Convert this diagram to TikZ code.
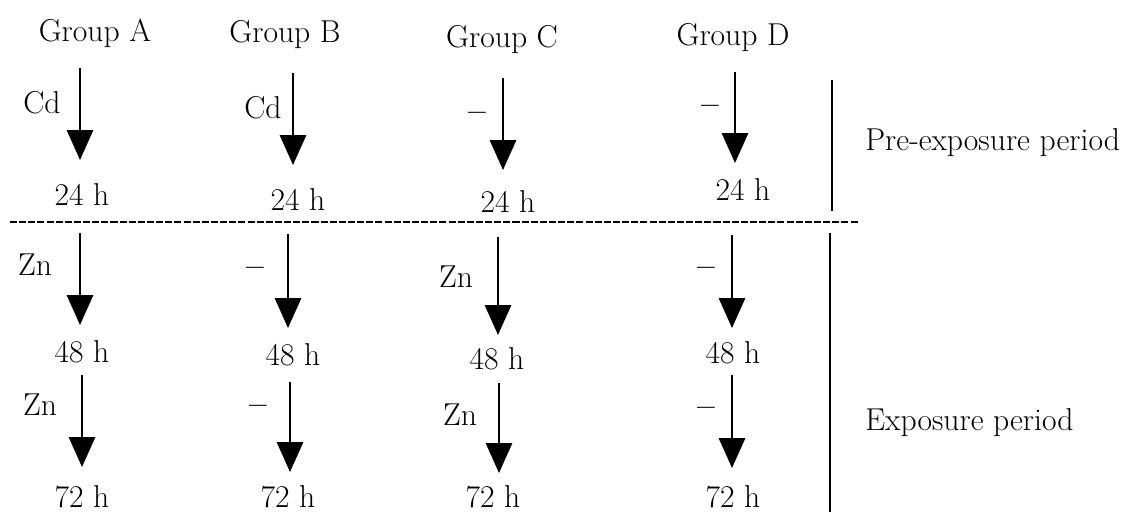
\documentclass[tikz,border=0pt]{standalone}
\usepackage{tikz}
\usetikzlibrary{arrows.meta,positioning}

\begin{document}
\begin{tikzpicture}[x=0.02cm,y=-0.02cm,
    flow/.style={line width=0.85pt,-{Triangle[width=15pt,length=17pt]}},
    lbl/.style={inner sep=0pt,font=\fontsize{18}{21}\selectfont},
    sepline/.style={line width=0.8pt,dash pattern=on 4pt off 1.2pt}]
    \useasboundingbox (0,0) rectangle (1132,512);
    % group titles
    \node[lbl] (gA) at (95,33) {Group A};
    \node[lbl] (gB) at (285,35) {Group B};
    \node[lbl] (gC) at (502,40) {Group C};
    \node[lbl] (gD) at (733,38) {Group D};
    % time labels
    \node[lbl] (tA1) at (82,195) {24 h};
    \node[lbl] (tB1) at (298,200) {24 h};
    \node[lbl] (tC1) at (508,202) {24 h};
    \node[lbl] (tD1) at (743,190) {24 h};
    \node[lbl] (tA2) at (82,352) {48 h};
    \node[lbl] (tB2) at (293,355) {48 h};
    \node[lbl] (tC2) at (497,359) {48 h};
    \node[lbl] (tD2) at (733,353) {48 h};
    \node[lbl] (tA3) at (82,497) {72 h};
    \node[lbl] (tB3) at (288,497) {72 h};
    \node[lbl] (tC3) at (493,497) {72 h};
    \node[lbl] (tD3) at (733,497) {72 h};
    % treatment labels
    \node[lbl] (cA1) at (42,103) {Cd};
    \node[lbl] (cB1) at (263,108) {Cd};
    \node[lbl] (cC1) at (477,117) {\textbf{\textendash}};
    \node[lbl] (cD1) at (710,110) {\textbf{\textendash}};
    \node[lbl] (cA2) at (35,265) {Zn};
    \node[lbl] (cB2) at (255,272) {\textbf{\textendash}};
    \node[lbl] (cC2) at (456,277) {Zn};
    \node[lbl] (cD2) at (706,272) {\textbf{\textendash}};
    \node[lbl] (cA3) at (40,405) {Zn};
    \node[lbl] (cB3) at (258,410) {\textbf{\textendash}};
    \node[lbl] (cC3) at (460,415) {Zn};
    \node[lbl] (cD3) at (706,412) {\textbf{\textendash}};
    % arrows
    \coordinate (sA1) at (80,68);   \coordinate (eA1) at (80,160);
    \coordinate (sB1) at (293,73);  \coordinate (eB1) at (293,165);
    \coordinate (sC1) at (503,78);  \coordinate (eC1) at (503,170);
    \coordinate (sD1) at (735,72);  \coordinate (eD1) at (735,163);
    \coordinate (sA2) at (80,233);  \coordinate (eA2) at (80,325);
    \coordinate (sB2) at (288,234); \coordinate (eB2) at (288,328);
    \coordinate (sC2) at (498,237); \coordinate (eC2) at (498,335);
    \coordinate (sD2) at (732,235); \coordinate (eD2) at (732,328);
    \coordinate (sA3) at (82,375);  \coordinate (eA3) at (82,467);
    \coordinate (sB3) at (290,382); \coordinate (eB3) at (290,472);
    \coordinate (sC3) at (499,383); \coordinate (eC3) at (499,473);
    \coordinate (sD3) at (732,375); \coordinate (eD3) at (732,468);
    \draw[flow] (sA1) -- (eA1);
    \draw[flow] (sB1) -- (eB1);
    \draw[flow] (sC1) -- (eC1);
    \draw[flow] (sD1) -- (eD1);
    \draw[flow] (sA2) -- (eA2);
    \draw[flow] (sB2) -- (eB2);
    \draw[flow] (sC2) -- (eC2);
    \draw[flow] (sD2) -- (eD2);
    \draw[flow] (sA3) -- (eA3);
    \draw[flow] (sB3) -- (eB3);
    \draw[flow] (sC3) -- (eC3);
    \draw[flow] (sD3) -- (eD3);
    % separator and period bars
    \coordinate (dL) at (10,222);
    \coordinate (dR) at (858,222);
    \draw[sepline] (dL) -- (dR);
    \coordinate (pT) at (832,80);
    \coordinate (pB) at (832,211);
    \coordinate (xT) at (830,233);
    \coordinate (xB) at (830,512);
    \draw[line width=0.85pt] (pT) -- (pB);
    \draw[line width=0.85pt] (xT) -- (xB);
    \node[lbl,anchor=west] (pre) at (865,143) {Pre-exposure period};
    \node[lbl,anchor=west] (expo) at (865,423) {Exposure period};
\end{tikzpicture}
\end{document}
